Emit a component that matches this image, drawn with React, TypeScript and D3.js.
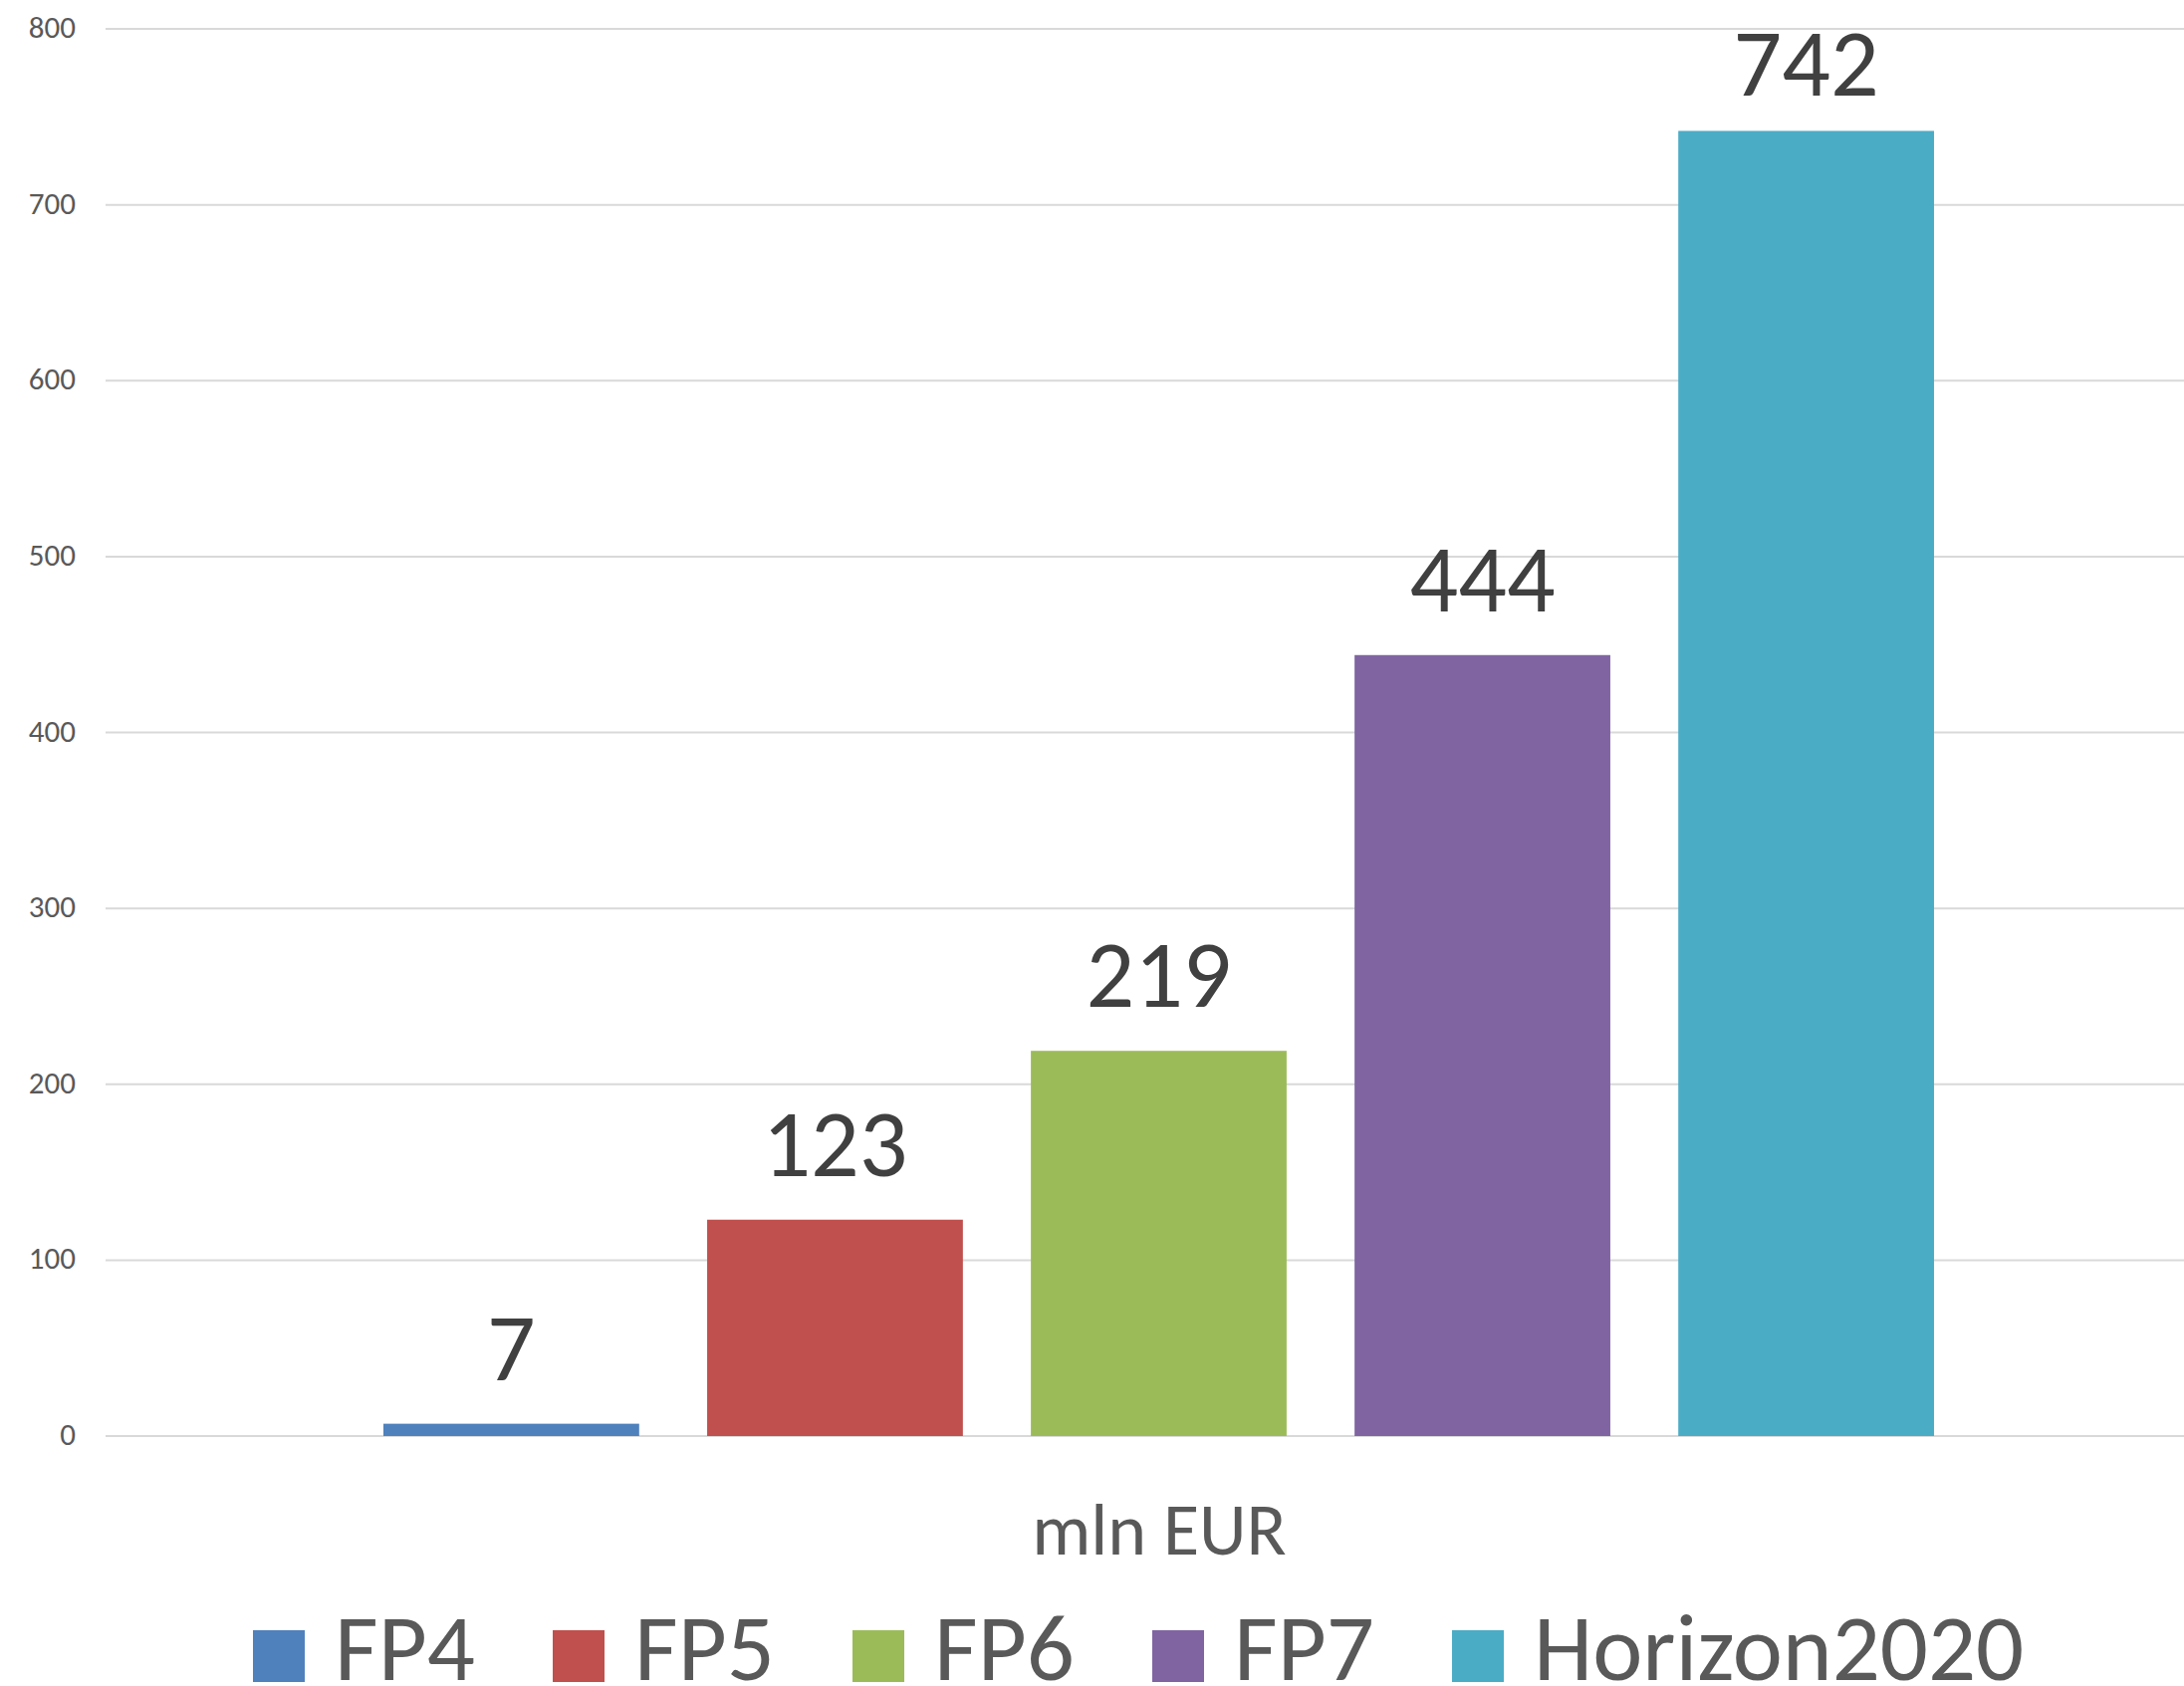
import { scaleLinear, scaleBand } from "d3";

const series = ["FP4", "FP5", "FP6", "FP7", "Horizon2020"];
const values = [7, 123, 219, 444, 742];
const colors = ["#4F81BD", "#C0504D", "#9BBB59", "#8064A2", "#4BACC6"];
const yTicks = [0, 100, 200, 300, 400, 500, 600, 700, 800];
const axisTitle = "mln EUR";

const W = 2193;
const H = 1693;
const FONT = "Carlito, Calibri, Lato, sans-serif";

export default function App() {
  const y = scaleLinear().domain([0, 800]).range([1442, 29]);
  const x = scaleBand<string>().domain(series).range([385, 1942]).paddingInner(0.21).paddingOuter(0);
  const legendX = [254, 555, 856, 1157, 1458];

  return (
    <svg
      width={W}
      height={H}
      style={{ position: "absolute", left: 0, top: 0, background: "#fff" }}
      fontFamily={FONT}
    >
      <g className="grid">
        {yTicks.map((t) => (
          <line key={t} x1={106} x2={W} y1={y(t)} y2={y(t)} stroke="#d9d9d9" strokeWidth={2} />
        ))}
      </g>
      <g className="y-axis">
        {yTicks.map((t) => (
          <text key={t} x={76} y={y(t) + 9} textAnchor="end" fontSize={31} fill="#595959">
            {t}
          </text>
        ))}
      </g>
      <g className="bars">
        {series.map((s, i) => (
          <rect
            key={s}
            x={x(s)}
            y={y(values[i])}
            width={x.bandwidth()}
            height={y(0) - y(values[i])}
            fill={colors[i]}
          />
        ))}
      </g>
      <g className="labels">
        {series.map((s, i) => (
          <text
            key={s}
            x={(x(s) ?? 0) + x.bandwidth() / 2}
            y={Math.max(y(values[i]) - 44, 96)}
            textAnchor="middle"
            fontSize={96}
            fill="#404040"
          >
            {values[i]}
          </text>
        ))}
      </g>
      <text x={1164} y={1561} textAnchor="middle" fontSize={74} fill="#595959">
        {axisTitle}
      </text>
      <g className="legend">
        {series.map((s, i) => (
          <g key={s}>
            <rect x={legendX[i]} y={1637} width={52} height={52} fill={colors[i]} />
            <text x={legendX[i] + 82} y={1687} fontSize={95} fill="#595959">
              {s}
            </text>
          </g>
        ))}
      </g>
    </svg>
  );
}
